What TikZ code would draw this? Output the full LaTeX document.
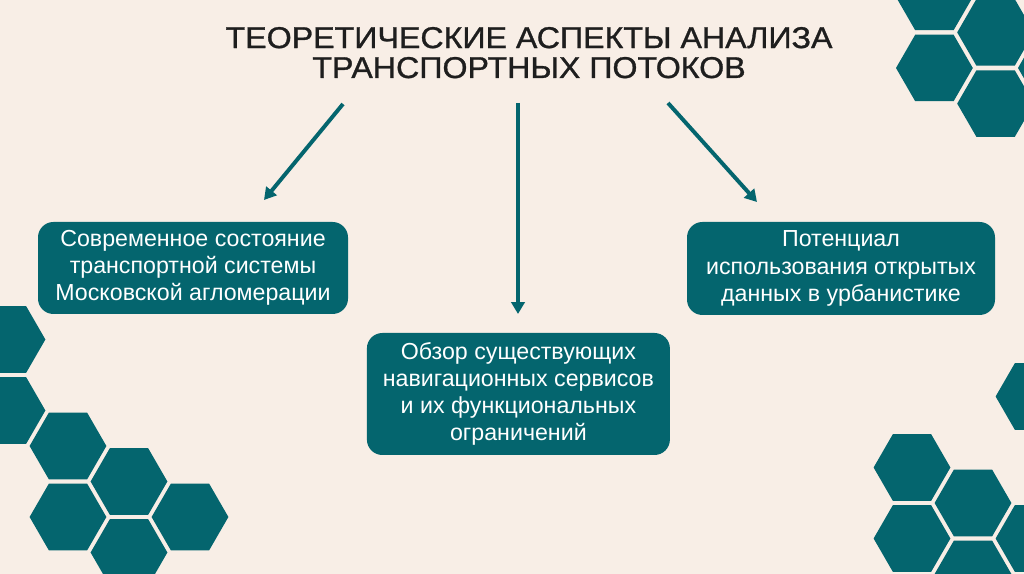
\documentclass[tikz,border=0pt]{standalone}
\usepackage{fontspec}
\setmainfont{Liberation Sans}
\setsansfont{Liberation Sans}
\newfontfamily\headfont[FakeBold=1, FakeStretch=1.07]{Liberation Sans}
\usepackage{xcolor}
\usepackage{tikz}
\usetikzlibrary{arrows.meta,positioning,calc}
\definecolor{INK}{HTML}{1E1E1E}
\definecolor{BG}{HTML}{F8EEE6}
\definecolor{TEAL}{HTML}{04656E}

\begin{document}
\begin{tikzpicture}[
  font=\sffamily,
  topic/.style={rounded corners=11pt, fill=TEAL, align=center, text=white,
    inner sep=0pt, font=\sffamily\fontsize{16.5}{19.3}\selectfont},
  hex/.style={fill=TEAL},
  flow/.style={-{Triangle[length=8.5pt, width=9.5pt]}, draw=TEAL, line width=2.8pt},
]

% ---- background -----------------------------------------------------------
\fill[BG] (0,0) rectangle (25.6,14.35);
\useasboundingbox (0,0) rectangle (25.6,14.35);

% ---- honeycomb corners ----------------------------------------------------
\foreach \hx/\hy in {23.36/12.65, 23.36/14.425, 24.89/13.54, 24.89/11.76, 26.41/12.65,
    0.175/5.8625, 0.175/4.0875, 1.7/3.2, 1.7/1.425, 3.225/2.3125, 3.225/0.5375, 4.75/1.425,
    22.8/2.6625, 22.8/0.8875, 24.325/1.775, 24.325/0, 25.85/4.4375, 25.85/0.8875}
  \fill[hex, shift={(\hx,\hy)}] (0:0.96) -- (60:0.96) -- (120:0.96) -- (180:0.96)
    -- (240:0.96) -- (300:0.96) -- cycle;

% ---- title ----------------------------------------------------------------
\node[font=\headfont\fontsize{21.4}{21.3}\selectfont, text=INK, align=center, anchor=base]
  (title) at (13.225,12.4) {ТЕОРЕТИЧЕСКИЕ АСПЕКТЫ АНАЛИЗА\\ТРАНСПОРТНЫХ ПОТОКОВ};

% ---- topics ---------------------------------------------------------------
\node[topic, minimum width=7.75cm, minimum height=2.3cm] (modern) at (4.825,7.65)
  {Современное состояние\\транспортной системы\\Московской агломерации};
\node[topic, minimum width=7.575cm, minimum height=3.05cm] (review) at (12.96,4.5)
  {Обзор существующих\\навигационных сервисов\\и их функциональных\\ограничений};
\node[topic, minimum width=7.7cm, minimum height=2.325cm] (opendata) at (21.025,7.6375)
  {Потенциал\\использования открытых\\данных в урбанистике};

% ---- arrows ---------------------------------------------------------------
\coordinate (fromL) at (8.575,11.75);
\coordinate (toL) at (6.6,9.35);
\coordinate (fromM) at (12.95,11.775);
\coordinate (toM) at (12.95,6.5);
\coordinate (fromR) at (16.7,11.775);
\coordinate (toR) at (18.925,9.3);
\draw[flow] (fromL) -- (toL);
\draw[flow] (fromM) -- (toM);
\draw[flow] (fromR) -- (toR);

\end{tikzpicture}
\end{document}
